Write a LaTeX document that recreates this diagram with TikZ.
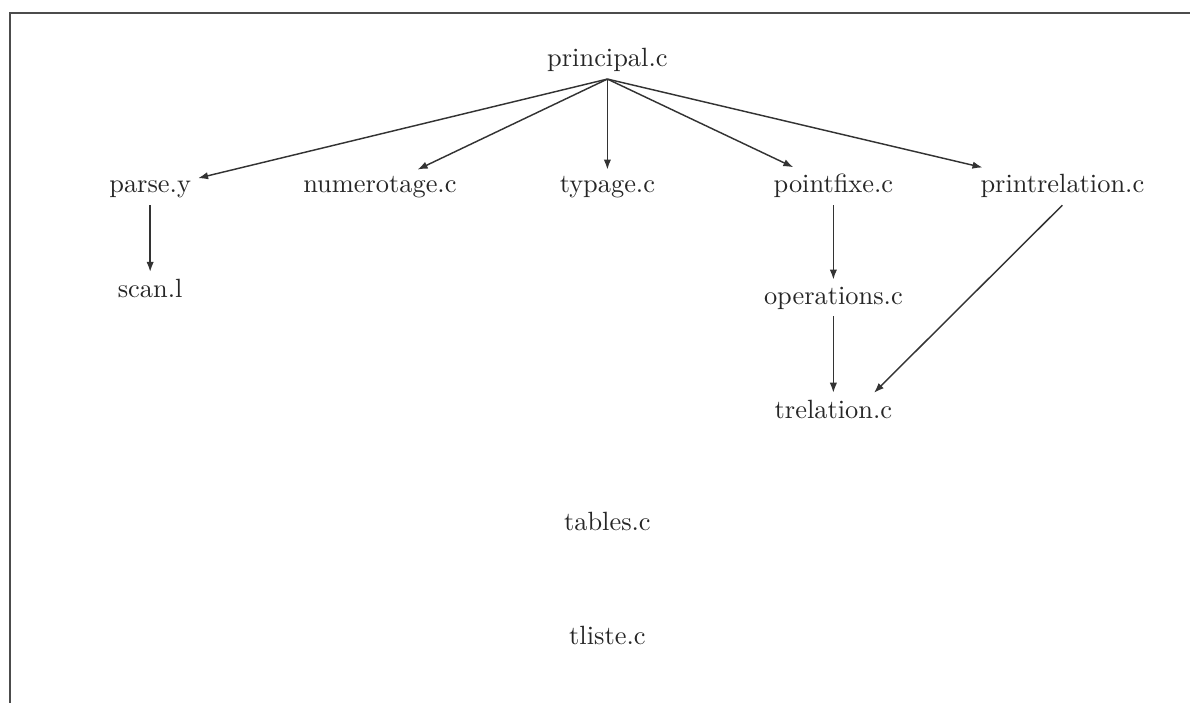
\documentclass[tikz,border=0pt]{standalone}
\usepackage{tikz}
\usetikzlibrary{arrows.meta, positioning}
\tikzset{
>={Latex[length=3.8pt,width=2.8pt]}, % small filled arrow heads
every node/.style={inner sep=2.5pt, anchor=base, text=black!85}, % file names sit on their baseline
call/.style={->, black!80, line width=0.55pt}, % the call lines
}
\begin{document}
\begin{tikzpicture}
\useasboundingbox (0,0) rectangle (15.85,-9.36);
\draw[black!70, line width=0.7pt] (0.13,-9.36) -- (0.13,-0.17) -- (15.85,-0.17);

\node (principal) at (8.09,-0.89) {principal.c};
\node (parse) at (2.00,-2.57) {parse.y};
\node (numerotage) at (5.06,-2.57) {numerotage.c};
\node (typage) at (8.09,-2.57) {typage.c};
\node (pointfixe) at (11.10,-2.57) {pointfixe.c};
\node (printrelation) at (14.15,-2.57) {printrelation.c};
\node (scan) at (2.00,-3.96) {scan.l};
\node (operations) at (11.10,-4.05) {operations.c};
\node (trelation) at (11.10,-5.57) {trelation.c};
\node (tables) at (8.09,-7.07) {tables.c};
\node (tliste) at (8.09,-8.58) {tliste.c};

\path[call] (principal.south) edge (parse)
		(principal.south) edge (numerotage)
		(principal.south) edge (typage)
		(principal.south) edge (pointfixe)
		(principal.south) edge (printrelation);

\path[call] (parse) edge (scan)
		(pointfixe) edge (operations)
		(operations) edge (trelation)
		(printrelation.south) edge (trelation.22);
\end{tikzpicture}
\end{document}
